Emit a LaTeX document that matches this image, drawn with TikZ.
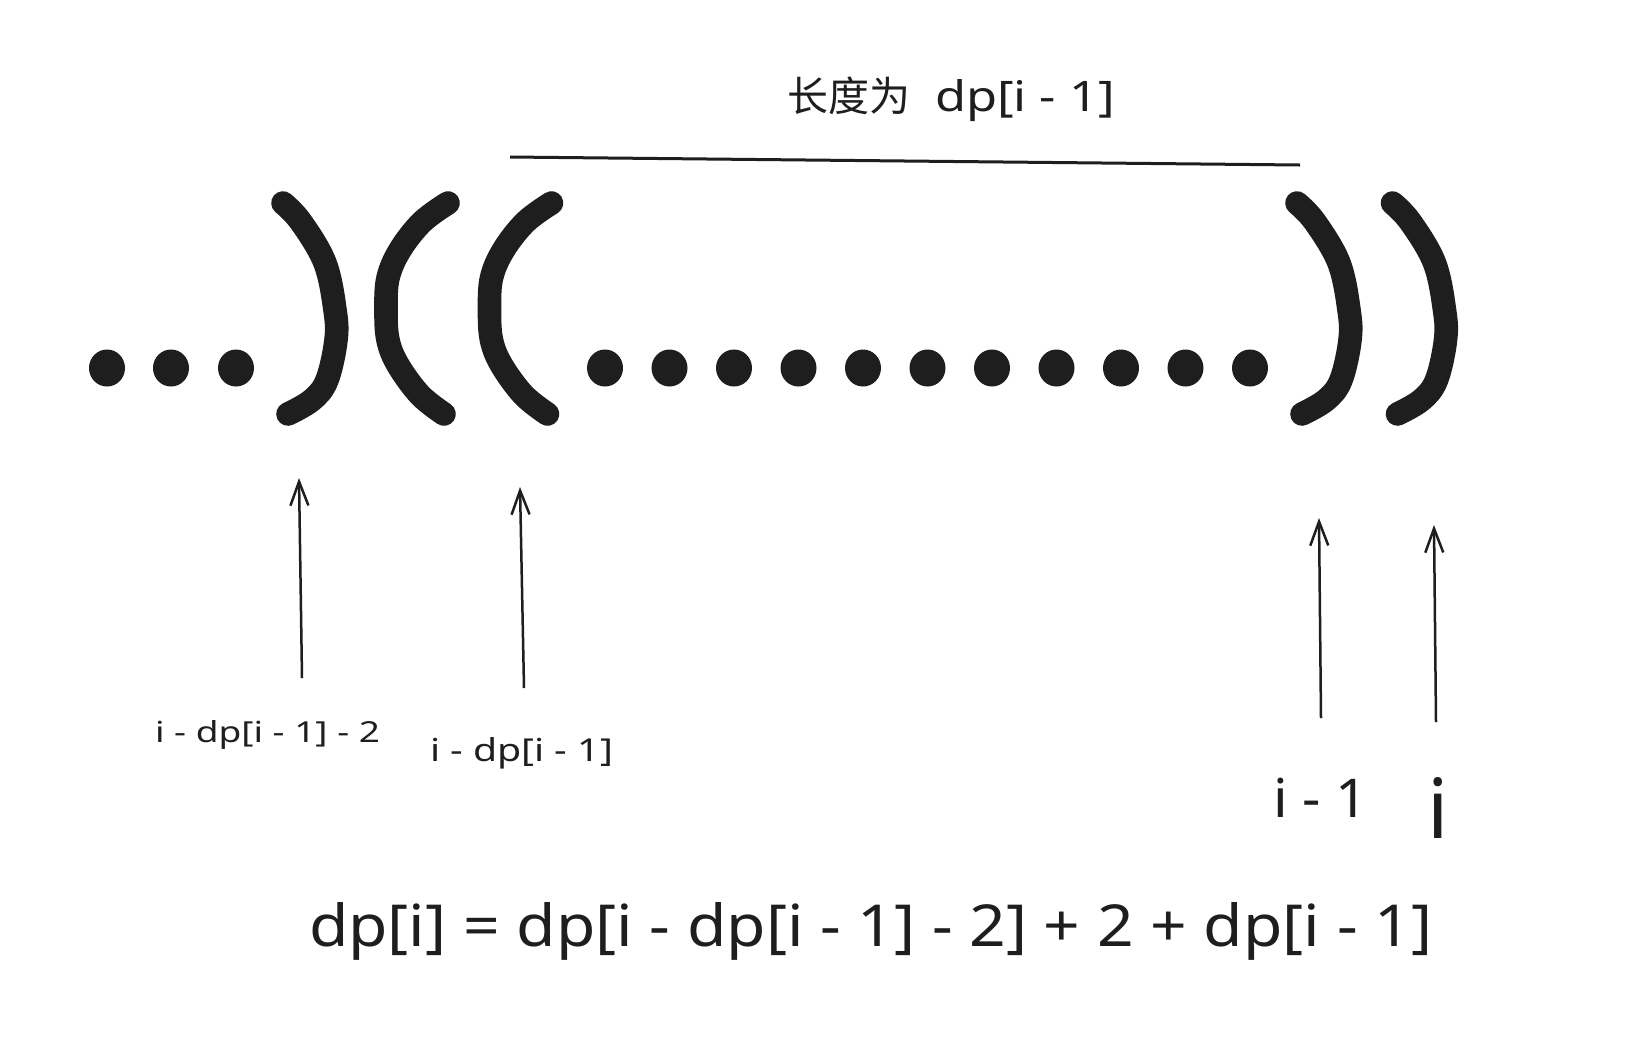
\documentclass[tikz,border=0pt]{standalone}
\usepackage{fontspec}
\setmainfont{Noto Sans}
\newfontfamily\cjkfont{Noto Sans CJK SC}
\usetikzlibrary{arrows.meta}
\definecolor{ink}{HTML}{1E1E1E}
\begin{document}
\begin{tikzpicture}[x=0.5pt,y=-0.5pt,
  paren/.style={draw=ink, line width=11.8pt, line cap=round, line join=round},
  arrowline/.style={draw=ink, line width=1.25pt, -{Straight Barb[length=12pt,width=9pt,line width=1.25pt]}},
  lbl/.style={inner sep=0pt, outer sep=0pt, text=ink, anchor=base west},
  dot/.style={fill=ink},
]
\path[use as bounding box, fill=white] (0,0) rectangle (1634,1051);

% dots
\foreach \cx in {107,171,236}
  \fill[dot] (\cx,368) ellipse [x radius=18, y radius=18.5];
\foreach \k in {0,...,10}
  \fill[dot] ({605+64.5*\k},368) ellipse [x radius=18, y radius=18.5];

% closing parentheses
\foreach \dx in {0,1014,1109.5}
  \draw[paren, shift={(\dx,0)}] plot[smooth, tension=0.6] coordinates
    {(283,203) (301,222) (325,263) (335,310) (336,340) (327,380) (312,400) (288,414)};
% opening parentheses
\foreach \dx in {0,103.5}
  \draw[paren, shift={(\dx,0)}] plot[smooth, tension=0.6] coordinates
    {(448,203) (422,222) (400,250) (388,278) (386,310) (388,340) (398,365) (420,395) (444,414)};

% top span line
\coordinate (L1) at (510,157);
\coordinate (L2) at (1300,165);
\draw[ink, line width=1.5pt] (L1) -- (L2);

% labels
\node[lbl] (top) at (787,111)
  {{\cjkfont\fontsize{20.5pt}{24pt}\selectfont 长度为}\hspace{12.5pt}\resizebox{90pt}{16pt}{dp[i - 1]}};
\node[lbl] (formula) at (309,946)
  {\resizebox{561.5pt}{22pt}{dp[i] = dp[i - dp[i - 1] - 2] + 2 + dp[i - 1]}};
\node[lbl] (lab1) at (155,742) {\resizebox{112.5pt}{11pt}{i - dp[i - 1] - 2}};
\node[lbl] (lab2) at (430,761) {\resizebox{91.5pt}{12pt}{i - dp[i - 1]}};
\node[lbl] (lab3) at (1273,817) {\resizebox{47.5pt}{19.7pt}{\bfseries i - 1}};
\node[inner sep=0pt, anchor=base, text=ink] (lab4) at (1438,838) {\resizebox{!}{30.5pt}{\bfseries i}};

% arrows
\coordinate (a1s) at (302,678); \coordinate (a1e) at (299,478);
\coordinate (a2s) at (524,688); \coordinate (a2e) at (520,487);
\coordinate (a3s) at (1321,718); \coordinate (a3e) at (1319,518);
\coordinate (a4s) at (1436,722); \coordinate (a4e) at (1434,525);
\draw[arrowline] (a1s) -- (a1e);
\draw[arrowline] (a2s) -- (a2e);
\draw[arrowline] (a3s) -- (a3e);
\draw[arrowline] (a4s) -- (a4e);
\end{tikzpicture}
\end{document}
